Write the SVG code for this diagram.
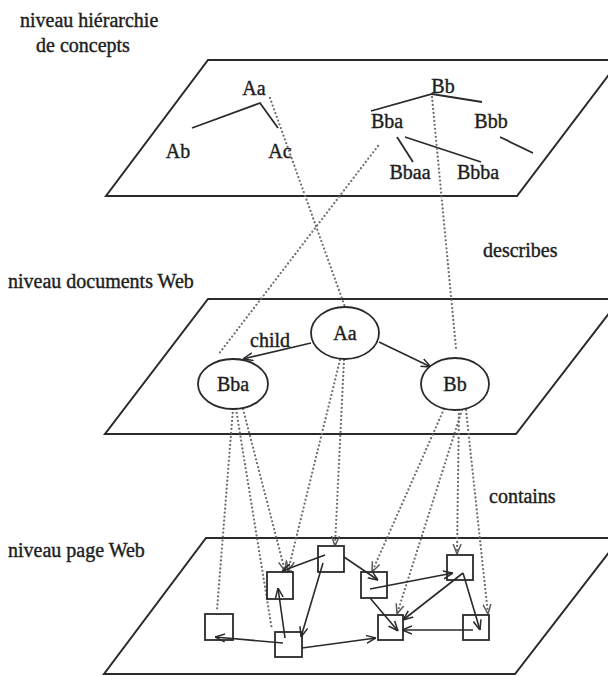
<svg xmlns="http://www.w3.org/2000/svg" width="608" height="676" viewBox="0 0 608 676">
<style>
.plane{fill:none;stroke:#2a2a2a;stroke-width:2;stroke-linejoin:miter}
.lab{font-family:"Liberation Serif","Times New Roman",serif;font-size:20px;fill:#1e1e1e;stroke:#1e1e1e;stroke-width:0.4}
.c{text-anchor:middle}
.ln{fill:none;stroke:#2a2a2a;stroke-width:1.8}
.dot{fill:none;stroke:#6e6e6e;stroke-width:2.3;stroke-dasharray:0 4;stroke-linecap:round}
.arr{fill:none;stroke:#2a2a2a;stroke-width:1.6;marker-end:url(#v)}
.darr{marker-end:url(#dv)}
.box{fill:none;stroke:#2a2a2a;stroke-width:1.8}
.ell{fill:#fff;stroke:#2a2a2a;stroke-width:1.8}
</style>
<defs>
<marker id="v" viewBox="0 0 10 10" refX="10" refY="5" markerWidth="10" markerHeight="10" markerUnits="userSpaceOnUse" orient="auto"><path d="M0,1 L10,5 L0,9" fill="none" stroke="#2a2a2a" stroke-width="1.5"/></marker>
<marker id="dv" viewBox="0 0 10 10" refX="10" refY="5" markerWidth="10" markerHeight="10" markerUnits="userSpaceOnUse" orient="auto"><path d="M0,1 L10,5 L0,9" fill="none" stroke="#5a5a5a" stroke-width="1.5"/></marker>
</defs>
<rect width="608" height="676" fill="#fff"/>

<g id="planes">
<polygon class="plane" points="208,60 620,60 517,196 106,196"/>
<polygon class="plane" points="208,299 620,299 516,434 105,434"/>
<polygon class="plane" points="206,538 620,538 515,674 104,674"/>
</g>

<g id="labels">
<text class="lab" x="20" y="27">niveau hiérarchie</text>
<text class="lab" x="36" y="52">de concepts</text>
<text class="lab" x="483" y="257">describes</text>
<text class="lab" x="8" y="288">niveau documents Web</text>
<text class="lab" x="489" y="503">contains</text>
<text class="lab" x="8" y="557">niveau page Web</text>
</g>

<g id="connectors">
<polyline class="ln" points="192,128 260,103 278,128"/>
<polyline class="ln" points="371,111 432,94 482,102"/>
<line class="ln" x1="397" y1="137" x2="413" y2="162"/>
<line class="ln" x1="405" y1="137" x2="481" y2="162"/>
<line class="ln" x1="500" y1="137" x2="533" y2="153"/>

<line class="dot" x1="270" y1="98" x2="345" y2="307"/>
<line class="dot" x1="432" y1="97" x2="456" y2="348"/>
<line class="dot" x1="378" y1="146" x2="218" y2="355"/>

<line class="arr" x1="311" y1="343" x2="243" y2="359"/>
<line class="arr" x1="379" y1="342" x2="431" y2="367"/>
<text class="lab" x="250" y="347">child</text>

<line class="dot" x1="233" y1="409" x2="217" y2="610"/>
<line class="dot" x1="236" y1="409" x2="272" y2="630"/>
<line class="dot darr" x1="243" y1="409" x2="285" y2="571"/>
<line class="dot darr" x1="340" y1="360" x2="288" y2="571"/>
<line class="dot darr" x1="344" y1="360" x2="335" y2="546"/>
<line class="dot darr" x1="444" y1="409" x2="372" y2="572"/>
<line class="dot darr" x1="462" y1="410" x2="397" y2="614"/>
<line class="dot darr" x1="459" y1="410" x2="457" y2="554"/>
<line class="dot darr" x1="466" y1="410" x2="488" y2="614"/>

<line class="arr" x1="283" y1="643" x2="215" y2="637"/>
<line class="arr" x1="285" y1="638" x2="278" y2="588"/>
<line class="arr" x1="323" y1="563" x2="301" y2="637"/>
<line class="arr" x1="325" y1="555" x2="282" y2="571"/>
<line class="arr" x1="344" y1="557" x2="378" y2="580"/>
<line class="arr" x1="302" y1="648" x2="376" y2="638"/>
<line class="arr" x1="370" y1="589" x2="453" y2="573"/>
<line class="arr" x1="370" y1="598" x2="398" y2="631"/>
<line class="arr" x1="463" y1="573" x2="403" y2="620"/>
<line class="arr" x1="463" y1="573" x2="480" y2="630"/>
<line class="arr" x1="473" y1="630" x2="402" y2="630"/>
</g>

<g id="c-Aa"><text class="lab c" x="254" y="95">Aa</text></g>
<g id="c-Ab"><text class="lab c" x="178" y="158">Ab</text></g>
<g id="c-Ac"><text class="lab c" x="280" y="158">Ac</text></g>
<g id="c-Bb"><text class="lab c" x="443" y="93">Bb</text></g>
<g id="c-Bba"><text class="lab c" x="387" y="128">Bba</text></g>
<g id="c-Bbb"><text class="lab c" x="491" y="128">Bbb</text></g>
<g id="c-Bbaa"><text class="lab c" x="410" y="179">Bbaa</text></g>
<g id="c-Bbba"><text class="lab c" x="478" y="179">Bbba</text></g>

<g id="d-Aa"><ellipse class="ell" cx="345" cy="333" rx="34" ry="26"/><text class="lab c" x="345" y="340">Aa</text></g>
<g id="d-Bba"><ellipse class="ell" cx="233" cy="384" rx="35" ry="25"/><text class="lab c" x="233" y="391">Bba</text></g>
<g id="d-Bb"><ellipse class="ell" cx="455" cy="384" rx="34" ry="26"/><text class="lab c" x="455" y="391">Bb</text></g>

<g id="p-A"><rect class="box" x="205" y="614" width="28" height="26"/></g>
<g id="p-B"><rect class="box" x="267" y="572" width="26" height="27"/></g>
<g id="p-C"><rect class="box" x="318" y="546" width="26" height="26"/></g>
<g id="p-D"><rect class="box" x="275" y="632" width="27" height="25"/></g>
<g id="p-E"><rect class="box" x="361" y="572" width="26" height="26"/></g>
<g id="p-F"><rect class="box" x="447" y="555" width="26" height="25"/></g>
<g id="p-G"><rect class="box" x="378" y="615" width="25" height="25"/></g>
<g id="p-H"><rect class="box" x="463" y="615" width="26" height="25"/></g>
</svg>
